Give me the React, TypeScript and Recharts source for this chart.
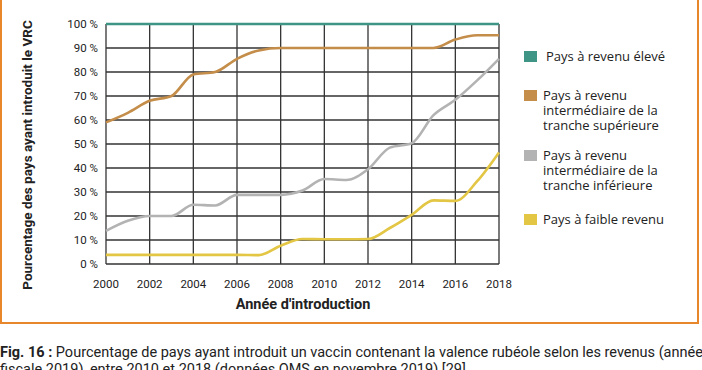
import React from 'react';
import { LineChart, Line, XAxis, YAxis, CartesianGrid } from 'recharts';

const YEARS = [2000, 2001, 2002, 2003, 2004, 2005, 2006, 2007, 2008, 2009, 2010, 2011, 2012, 2013, 2014, 2015, 2016, 2017, 2018];
const HIGH = [100, 100, 100, 100, 100, 100, 100, 100, 100, 100, 100, 100, 100, 100, 100, 100, 100, 100, 100];
const UPPER_MIDDLE = [59, 63, 68, 70, 79, 80, 85.5, 89, 90, 90, 90, 90, 90, 90, 90, 90, 93.5, 95.3, 95.3];
const LOWER_MIDDLE = [13.8, 18, 20, 20, 24.7, 24.4, 28.8, 28.8, 28.8, 30.6, 35.4, 35, 39.5, 48.5, 50.3, 62, 68.4, 76.5, 85.5];
const LOW = [3.8, 3.8, 3.8, 3.8, 3.8, 3.8, 3.8, 3.7, 7.6, 10.4, 10.3, 10.3, 10.4, 15, 20.5, 26.5, 26.3, 34.5, 46.5];
const X_TICKS = [2000, 2002, 2004, 2006, 2008, 2010, 2012, 2014, 2016, 2018];
const Y_TICKS = [0, 10, 20, 30, 40, 50, 60, 70, 80, 90, 100];

const SERIES = [
  { key: 'high', name: 'Pays à revenu élevé', color: '#3f9585' },
  { key: 'upper', name: 'Pays à revenu\nintermédiaire de la\ntranche supérieure', color: '#c48d4a' },
  { key: 'lower', name: 'Pays à revenu\nintermédiaire de la\ntranche inférieure', color: '#b3b3b3' },
  { key: 'low', name: 'Pays à faible revenu', color: '#e3c644' },
];

const data = YEARS.map((year, i) => ({
  year,
  high: HIGH[i],
  upper: UPPER_MIDDLE[i],
  lower: LOWER_MIDDLE[i],
  low: LOW[i],
}));

const FONT = 'Roboto, "DejaVu Sans", sans-serif';
const LEGEND_FONT = '"Open Sans", Roboto, sans-serif';

function LegendBox() {
  const gaps = [0, 24, 15, 19];
  return (
    <div style={{ fontFamily: LEGEND_FONT, fontSize: 13, color: '#222', lineHeight: '15px' }}>
      {SERIES.map((s, i) => (
        <div key={s.key} style={{ display: 'flex', alignItems: 'flex-start', marginTop: gaps[i] }}>
          <span style={{ width: 13, height: 11, background: s.color, marginTop: 2, marginRight: i === 0 ? 9 : 6, flex: 'none' }} />
          <span style={{ whiteSpace: 'pre' }}>{s.name}</span>
        </div>
      ))}
    </div>
  );
}

export default function App() {
  return (
    <div style={{ position: 'absolute', left: 0, top: 0, width: 702, height: 370, background: '#fff', overflow: 'hidden' }}>
      <div
        style={{
          position: 'absolute',
          left: 0,
          top: -10,
          width: 699,
          height: 334,
          boxSizing: 'border-box',
          border: '2px solid #e8862c',
        }}
      />
      <div style={{ position: 'absolute', left: 0, top: 0 }}>
        <LineChart width={702} height={330} data={data} margin={{ top: 24, right: 203, left: 0, bottom: 0 }}>
          <CartesianGrid stroke="#333" strokeWidth={1.3} />
          <XAxis
            dataKey="year"
            type="number"
            domain={[2000, 2018]}
            ticks={X_TICKS}
            interval={0}
            height={66}
            axisLine={false}
            tickLine={false}
            tick={{ fill: '#222', fontSize: 11.5, fontFamily: FONT }}
            tickMargin={10}
          />
          <YAxis
            type="number"
            domain={[0, 100]}
            ticks={Y_TICKS}
            interval={0}
            width={106}
            axisLine={false}
            tickLine={false}
            tickFormatter={(v: number) => `${v} %`}
            tick={{ fill: '#222', fontSize: 11.5, fontFamily: FONT }}
            tickMargin={2}
          />
          {SERIES.map((s) => (
            <Line
              key={s.key}
              type="monotone"
              dataKey={s.key}
              name={s.name}
              stroke={s.color}
              strokeWidth={2.6}
              dot={false}
              isAnimationActive={false}
            />
          ))}
        </LineChart>
      </div>
      <div style={{ position: 'absolute', left: 524, top: 49 }}>
        <LegendBox />
      </div>
      <div
        style={{
          position: 'absolute',
          left: 27,
          top: 155,
          transform: 'translate(-50%, -50%) rotate(-90deg)',
          whiteSpace: 'nowrap',
          fontFamily: FONT,
          fontWeight: 700,
          fontSize: 13.5,
          color: '#222',
        }}
      >
        Pourcentage des pays ayant introduit le VRC
      </div>
      <div
        style={{
          position: 'absolute',
          left: 303,
          top: 304,
          transform: 'translate(-50%, -50%)',
          whiteSpace: 'nowrap',
          fontFamily: FONT,
          fontWeight: 700,
          fontSize: 14.5,
          color: '#222',
        }}
      >
        Année d'introduction
      </div>
      <div
        style={{
          position: 'absolute',
          left: 0,
          top: 344,
          width: 720,
          fontFamily: FONT,
          fontSize: 14.5,
          lineHeight: '17px',
          color: '#222',
          whiteSpace: 'nowrap',
        }}
      >
        <div>
          <b>Fig. 16 :</b> Pourcentage de pays ayant introduit un vaccin contenant la valence rubéole selon les revenus (année
        </div>
        <div>fiscale 2019), entre 2010 et 2018 (données OMS en novembre 2019) [29].</div>
      </div>
    </div>
  );
}
